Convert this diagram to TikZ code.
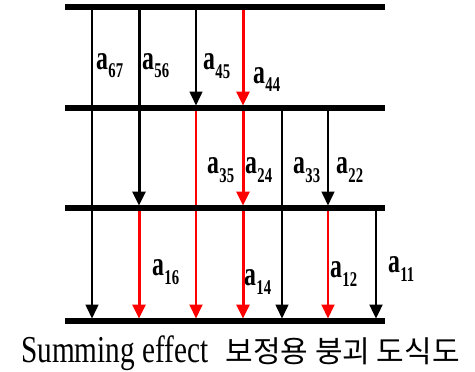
\documentclass[tikz,border=0pt]{standalone}
\usepackage{fontspec}
\setmainfont{Liberation Serif}
\newfontfamily\krfont{Noto Sans CJK KR}
\usetikzlibrary{arrows.meta}
\newcommand\alab[1]{\scalebox{0.7}[1]{\bfseries\fontsize{34}{34}\selectfont a\kern0.5pt\raisebox{-9pt}{\fontsize{21}{21}\selectfont #1}}}
\tikzset{
  levelline/.style={line width=5.5pt, line cap=butt},
  trarrow/.style={-{Triangle[width=13pt,length=14pt]}},
  bthin/.style={trarrow, draw=black, line width=1.5pt},
  bthick/.style={trarrow, draw=black, line width=3pt},
  bmed/.style={trarrow, draw=black, line width=2.4pt},
  rthin/.style={trarrow, draw=red, line width=2pt},
  rthick/.style={trarrow, draw=red, line width=3pt},
  lab/.style={inner sep=0pt, anchor=base west}
}
\begin{document}
\begin{tikzpicture}[x=1pt,y=-1pt]
\useasboundingbox (0,0) rectangle (475,372);
% level coordinates
\coordinate (L1w) at (65,7);   \coordinate (L1e) at (385,7);
\coordinate (L2w) at (65,108); \coordinate (L2e) at (385,108);
\coordinate (L3w) at (65,208); \coordinate (L3e) at (385,208);
\coordinate (L4w) at (65,321); \coordinate (L4e) at (385,321);
% transition endpoints
\foreach \n/\x in {a/92,b/139,c/196,d/243,e/282,f/328,g/376}{
  \coordinate (\n1) at (\x,7);
  \coordinate (\n2) at (\x,108);
  \coordinate (\n3) at (\x,208);
  \coordinate (\n4) at (\x,321);
  \coordinate (\n2t) at (\x,105.5);
  \coordinate (\n3t) at (\x,205.5);
  \coordinate (\n4t) at (\x,318.5);
}
% transitions
\draw[bthin]  (a1) -- (a4t);
\draw[bthick] (b1) -- (b3t);
\draw[rthick] (b3) -- (b4t);
\draw[bthin]  (c1) -- (c2t);
\draw[rthin]  (c2) -- (c4t);
\draw[rthick] (d1) -- (d2t);
\draw[rthick] (d2) -- (d3t);
\draw[rthick] (d3) -- (d4t);
\draw[bthin]  (e2) -- (e4t);
\draw[bthin]  (f2) -- (f3t);
\draw[rthin]  (f3) -- (f4t);
\draw[bmed]   (g3) -- (g4t);
% levels
\draw[levelline] (L1w) -- (L1e);
\draw[levelline] (L2w) -- (L2e);
\draw[levelline] (L3w) -- (L3e);
\draw[levelline] (L4w) -- (L4e);
% labels
\node[lab] (l67) at (96,69) {\alab{67}};
\node[lab] (l56) at (142,69) {\alab{56}};
\node[lab] (l45) at (203,70) {\alab{45}};
\node[lab] (l44) at (253,83) {\alab{44}};
\node[lab] (l35) at (207,173) {\alab{35}};
\node[lab] (l24) at (245,173) {\alab{24}};
\node[lab] (l33) at (293,173) {\alab{33}};
\node[lab] (l22) at (336,173) {\alab{22}};
\node[lab] (l16) at (152,275) {\alab{16}};
\node[lab] (l14) at (244,285) {\alab{14}};
\node[lab] (l12) at (330,277) {\alab{12}};
\node[lab] (l11) at (388,272) {\alab{11}};
% caption
\node[inner sep=0pt, anchor=base west] (capl) at (21,362)
  {\scalebox{0.77}[1]{\fontsize{38}{38}\selectfont Summing effect}};
\node[inner sep=0pt, anchor=base east] (capk) at (460,362)
  {\krfont\fontsize{30}{30}\selectfont 보정용 붕괴 도식도};
\end{tikzpicture}
\end{document}
